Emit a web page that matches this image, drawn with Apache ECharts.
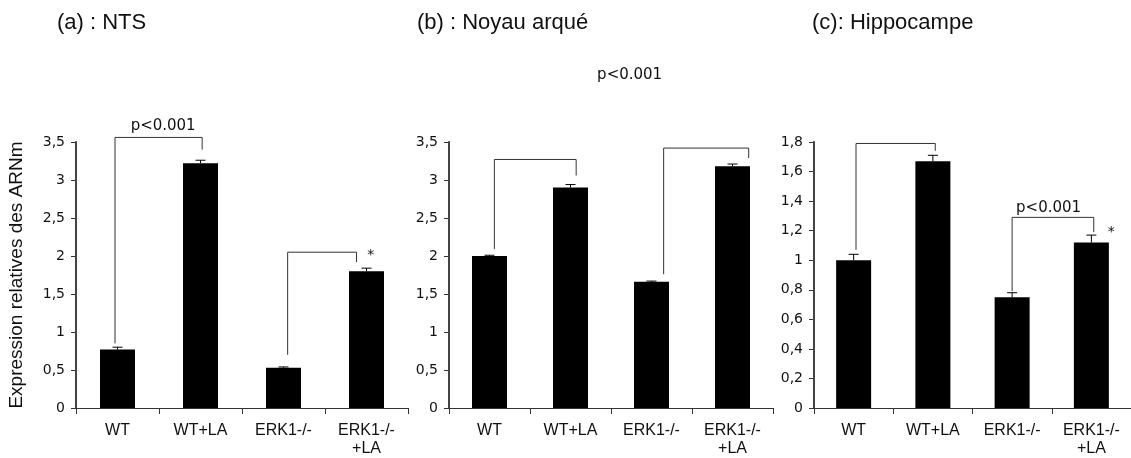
<!DOCTYPE html>
<html>
<head>
<meta charset="utf-8" />
<title>Expression relatives des ARNm</title>
<script src="https://cdn.jsdelivr.net/npm/echarts@6/dist/echarts.min.js"></script>
<style>
  html, body { margin: 0; padding: 0; background: #fff; }
  #main { width: 1131px; height: 458px; }
</style>
</head>
<body>
<div id="main"></div>
<script>
// groupes
var categories = ['WT', 'WT+LA', 'ERK1-/-', 'ERK1-/-\n+LA'];

// (a) NTS
var ntsValues = [0.77, 3.22, 0.53, 1.80];
var ntsErrors = [0.03, 0.04, 0.01, 0.04];
// (b) noyau arqué
var arcValues = [2.00, 2.90, 1.66, 3.18];
var arcErrors = [0.01, 0.04, 0.01, 0.03];
// (c) hippocampe
var hipValues = [1.00, 1.67, 0.75, 1.12];
var hipErrors = [0.04, 0.04, 0.03, 0.05];

// crochets de significativité : [x gauche, x droite, y bas gauche, y haut, y bas droite]
// (x en unités de catégorie : 0 = centre de WT)
var ntsBrackets = [[-0.03, 1.02, 0.85, 3.56, 3.40], [2.05, 2.88, 0.70, 2.05, 1.92]];
var arcBrackets = [[0.06, 1.07, 2.09, 3.27, 3.06], [2.15, 3.20, 1.76, 3.42, 3.29]];
var hipBrackets = [[0.03, 1.03, 1.07, 1.79, 1.74], [2.00, 3.03, 0.79, 1.29, 1.19]];

// annotations : [x, y, texte]
var ntsNotes = [[0.55, 3.71, 'p<0.001'], [3.05, 2.01, '*']];
var arcNotes = [[1.73, 4.38, 'p<0.001']];
var hipNotes = [[2.46, 1.355, 'p<0.001'], [3.25, 1.19, '*']];

var panels = [
  { title: '(a) : NTS', titleLeft: 52, values: ntsValues, errors: ntsErrors, brackets: ntsBrackets, notes: ntsNotes, max: 3.5, interval: 0.5, left: 76, width: 332 },
  { title: '(b) : Noyau arqué', titleLeft: 412, values: arcValues, errors: arcErrors, brackets: arcBrackets, notes: arcNotes, max: 3.5, interval: 0.5, left: 449, width: 324 },
  { title: '(c): Hippocampe', titleLeft: 807, values: hipValues, errors: hipErrors, brackets: hipBrackets, notes: hipNotes, max: 1.8, interval: 0.2, left: 814, width: 325 }
];

var lineColor = '#333';
var textColor = '#111';

// position fractionnaire sur l'axe des catégories
function pos(api, x, y) {
  var k = Math.max(0, Math.min(3, Math.round(x)));
  var band = api.size([1, 0])[0];
  var p = api.coord([k, y]);
  return [p[0] + (x - k) * band, p[1]];
}

function renderError(params, api) {
  var x = api.value(0), v = api.value(1), e = api.value(2);
  var base = pos(api, x, v);
  var top = pos(api, x, v + e);
  var w = 5;
  var st = { stroke: '#000', lineWidth: 1 };
  return {
    type: 'group',
    children: [
      { type: 'line', shape: { x1: base[0], y1: base[1], x2: top[0], y2: top[1] }, style: st },
      { type: 'line', shape: { x1: top[0] - w, y1: top[1], x2: top[0] + w, y2: top[1] }, style: st }
    ]
  };
}

// trait vertical de l'axe y, au bord gauche de la grille
function renderAxisLine(params, api) {
  var a = pos(api, -0.5, 0);
  var b = pos(api, -0.5, api.value(1));
  return {
    type: 'line',
    shape: { x1: a[0], y1: a[1], x2: b[0], y2: b[1] },
    style: { stroke: '#444', lineWidth: 2 }
  };
}

function makeBracketRenderer(brackets) {
  return function (params, api) {
    var b = brackets[params.dataIndex];
    var pts = [
      pos(api, b[0], b[2]),
      pos(api, b[0], b[3]),
      pos(api, b[1], b[3]),
      pos(api, b[1], b[4])
    ];
    return {
      type: 'polyline',
      shape: { points: pts },
      style: { stroke: lineColor, lineWidth: 1, fill: null }
    };
  };
}

function makeNoteRenderer(notes) {
  return function (params, api) {
    var n = notes[params.dataIndex];
    var p = pos(api, n[0], n[1]);
    return {
      type: 'text',
      x: p[0],
      y: p[1],
      style: {
        text: n[2],
        textAlign: 'center',
        textVerticalAlign: 'middle',
        fill: textColor,
        font: n[2] === '*' ? '14px "DejaVu Sans"' : '15px "DejaVu Sans"'
      }
    };
  };
}

var option = {
  animation: false,
  title: [],
  grid: [],
  xAxis: [],
  yAxis: [],
  series: []
};

panels.forEach(function (p, i) {
  option.title.push({
    text: p.title,
    left: p.titleLeft,
    top: 7,
    textStyle: { fontFamily: 'Liberation Sans', fontSize: 22, fontWeight: 'normal', color: textColor }
  });
  option.grid.push({ left: p.left, width: p.width, top: 142, bottom: 48 });
  option.xAxis.push({
    type: 'category',
    gridIndex: i,
    data: categories,
    axisLine: { lineStyle: { color: lineColor, width: 1 } },
    axisTick: { show: true, length: 6, lineStyle: { color: lineColor } },
    axisLabel: {
      interval: 0,
      margin: 14,
      color: textColor,
      fontFamily: 'Liberation Sans',
      fontSize: 16,
      lineHeight: 18
    },
    splitLine: { show: false }
  });
  option.yAxis.push({
    type: 'value',
    gridIndex: i,
    min: 0,
    max: p.max,
    interval: p.interval,
    name: i === 0 ? 'Expression relatives des ARNm' : '',
    nameLocation: 'middle',
    nameGap: 50,
    nameTextStyle: { fontFamily: 'Liberation Sans', fontSize: 19, color: textColor },
    axisLine: { show: true, lineStyle: { color: lineColor, width: 2 } },
    axisTick: { show: true, length: 5, lineStyle: { color: lineColor } },
    axisLabel: {
      margin: 11,
      color: textColor,
      fontFamily: 'DejaVu Sans',
      fontSize: 14,
      formatter: function (v) { return String(+v.toFixed(2)).replace('.', ','); }
    },
    splitLine: { show: false }
  });
});

panels.forEach(function (p, i) {
  option.series.push({
    type: 'bar',
    xAxisIndex: i,
    yAxisIndex: i,
    data: p.values,
    barWidth: 35,
    itemStyle: { color: '#000' },
    z: 2
  });
  option.series.push({
    type: 'custom',
    xAxisIndex: i,
    yAxisIndex: i,
    data: p.values.map(function (v, k) { return [k, v, p.errors[k]]; }),
    renderItem: renderError,
    clip: false,
    z: 3
  });
  option.series.push({
    type: 'custom',
    xAxisIndex: i,
    yAxisIndex: i,
    data: p.brackets.map(function (b, k) { return [k, b[3]]; }),
    renderItem: makeBracketRenderer(p.brackets),
    clip: false,
    z: 3
  });
  option.series.push({
    type: 'custom',
    xAxisIndex: i,
    yAxisIndex: i,
    data: p.notes.map(function (n, k) { return [k, n[1]]; }),
    renderItem: makeNoteRenderer(p.notes),
    clip: false,
    z: 4
  });
  option.series.push({
    type: 'custom',
    xAxisIndex: i,
    yAxisIndex: i,
    data: [[0, p.max]],
    renderItem: renderAxisLine,
    clip: false,
    silent: true,
    z: 10
  });
});

var myChart = echarts.init(document.getElementById('main'));
myChart.setOption(option);
</script>
</body>
</html>
